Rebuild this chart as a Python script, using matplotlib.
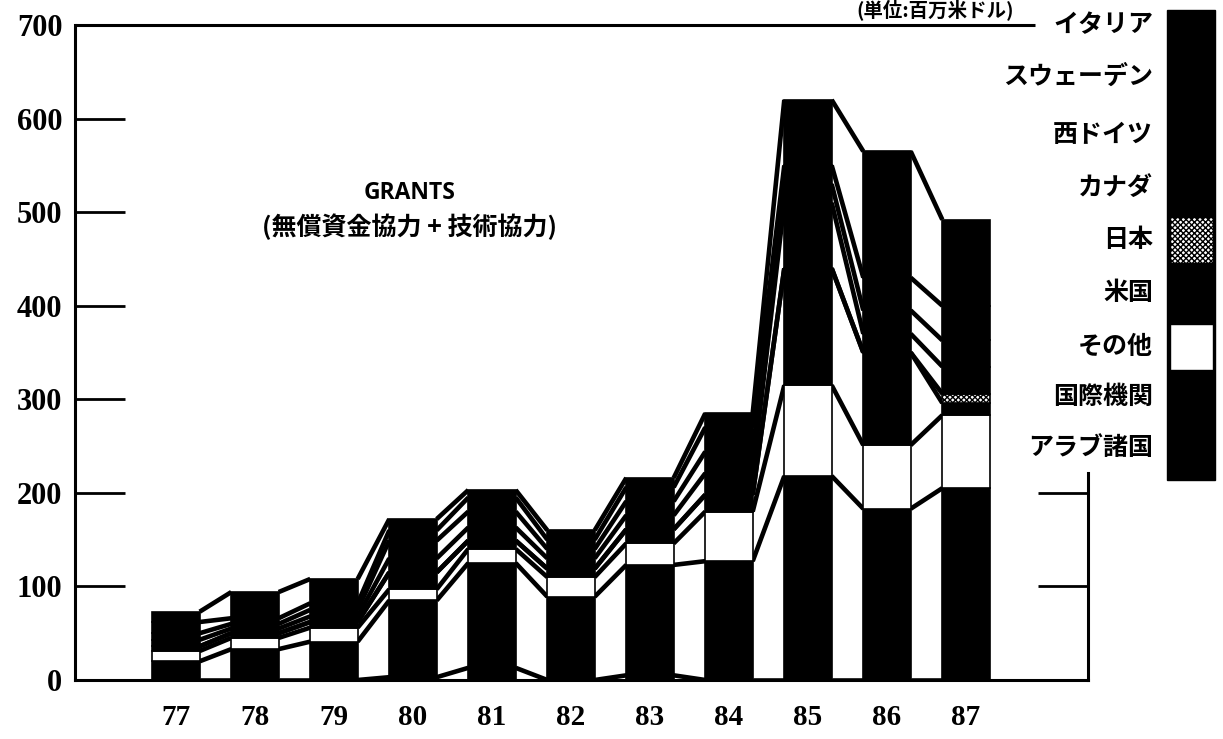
import numpy as np
import matplotlib.pyplot as plt
from matplotlib.patches import Rectangle

# 単位: 百万米ドル
years = ['77', '78', '79', '80', '81', '82', '83', '84', '85', '86', '87']
arab = [0, 0, 0, 3, 13, 0, 5, 0, 0, 0, 0]
intl = [20, 33, 41, 82, 112, 89, 118, 127, 218, 183, 205]
other = [11, 12, 15, 12, 15, 21, 23, 53, 97, 68, 78]
usa = [5, 5, 6, 18, 9, 9, 15, 18, 125, 99, 13]
japan = [0, 0, 0, 0, 0, 0, 0, 0, 0, 0, 10]
canada = [7, 5, 6, 15, 14, 11, 15, 23, 70, 20, 29]
wgermany = [7, 5, 7, 19, 17, 10, 15, 23, 20, 25, 28]
sweden = [12, 6, 7, 11, 15, 10, 15, 26, 20, 35, 37]
italy = [11, 28, 26, 12, 8, 10, 10, 15, 70, 135, 92]

series = [arab, intl, other, usa, japan, canada, wgermany, sweden, italy]
colors = ['black', 'black', 'white', 'black', 'white', 'black', 'black', 'black', 'black']
hatches = [None, None, None, None, 'xxxxxx', None, None, None, None]
legend_names = ['アラブ諸国', '国際機関', 'その他', '米国', '日本',
                'カナダ', '西ドイツ', 'スウェーデン', 'イタリア']

jp = ['Noto Sans CJK JP', 'DejaVu Sans']

fig = plt.figure(figsize=(12.23, 7.39), dpi=100)
W, H = 1223, 739
ax = fig.add_axes([75 / W, (H - 680) / H, (1088 - 75) / W, (680 - 25) / H])

x = np.arange(len(years))
w = 0.6
data = np.array(series, dtype=float)
cum = np.cumsum(data, axis=0)
bottoms = np.vstack([np.zeros(len(years)), cum[:-1]])

for k in range(len(series)):
    ax.bar(x, data[k], w, bottom=bottoms[k], color=colors[k], hatch=hatches[k],
           edgecolor='black', linewidth=1.2, zorder=3)

# connecting lines between bars
for i in range(len(years) - 1):
    for k in range(len(series)):
        ax.plot([x[i] + w / 2, x[i + 1] - w / 2], [cum[k, i], cum[k, i + 1]],
                color='black', lw=3.3, solid_capstyle='butt', zorder=2)

ax.set_xlim((75 - 176) / 79, (1088 - 176) / 79)
ax.set_ylim(0, 700)

ax.spines['top'].set_visible(False)
ax.spines['right'].set_bounds(0, 221)
for s in ['left', 'bottom', 'right']:
    ax.spines[s].set_linewidth(2.2)
ax.hlines(700, ax.get_xlim()[0], (1035 - 176) / 79, color='black', lw=2.2,
          clip_on=False)

ax.set_yticks(range(0, 701, 100))
ax.set_yticklabels([str(v) for v in range(0, 701, 100)],
                   fontfamily='Liberation Serif', fontweight='bold', fontsize=22)
ax.tick_params(axis='y', direction='in', length=36, width=2, pad=9,
               right=True, labelright=False)
ax.set_xticks(x)
ax.set_xticklabels(years, fontfamily='Liberation Serif', fontweight='bold', fontsize=21)
ax.tick_params(axis='x', length=0, pad=17)
# right-side ticks only up to the short right spine
for t in ax.yaxis.get_major_ticks():
    if t.get_loc() > 221 or t.get_loc() == 0:
        t.tick2line.set_visible(False)

fig.text(410 / W, 1 - 193 / H, 'GRANTS', ha='center', va='center', fontsize=16.5,
         fontweight='bold', family=['Open Sans', 'DejaVu Sans'])
fig.text(410 / W, 1 - 227 / H, '(無償資金協力 + 技術協力)', ha='center', va='center',
         fontsize=18, fontweight='bold', family=jp)

fig.text(935 / W, 1 - 10 / H, '(単位:百万米ドル)', ha='center', va='center',
         fontsize=14, fontweight='bold', family=jp)

# legend column
lab_y = [448, 397, 347, 293, 240, 188, 135, 77, 25]
fig.patches.append(Rectangle((1167 / W, 1 - 480 / H), 48 / W, 470 / H,
                             transform=fig.transFigure, color='black'))
for k, name in enumerate(legend_names):
    yc = 1 - lab_y[k] / H
    fig.text(1153 / W, yc, name, ha='right', va='center', fontsize=18,
             fontweight='bold', family=jp)
    if colors[k] != 'black' or hatches[k]:
        fig.patches.append(Rectangle((1170 / W, yc - 23 / H), 43 / W, 46 / H,
                                     transform=fig.transFigure, facecolor=colors[k],
                                     hatch=hatches[k], edgecolor='black', lw=1))

fig.savefig('out.png', dpi=100)
